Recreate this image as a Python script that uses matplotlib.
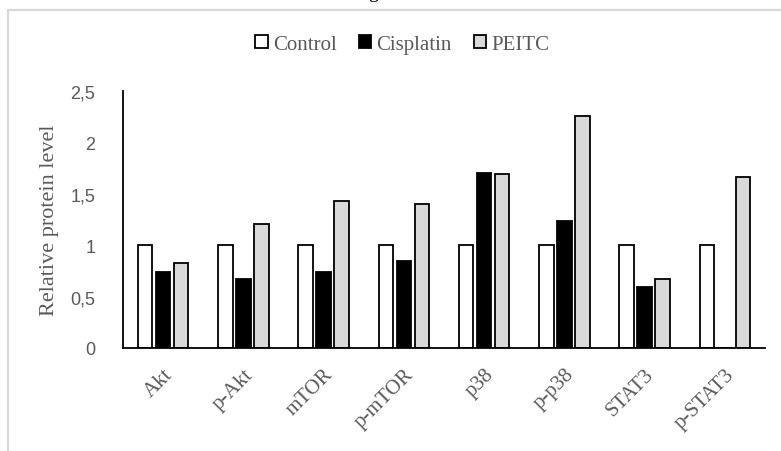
import numpy as np
import matplotlib.pyplot as plt
from matplotlib import patches

# valores
proteins = ["Akt", "p-Akt", "mTOR", "p-mTOR", "p38", "p-p38", "STAT3", "p-STAT3"]
control = [1, 1, 1, 1, 1, 1, 1, 1]
cisplatin = [0.74, 0.67, 0.74, 0.85, 1.70, 1.24, 0.59, 0]
peitc = [0.83, 1.21, 1.43, 1.40, 1.69, 2.26, 0.675, 1.66]
yticks = [0, 0.5, 1, 1.5, 2, 2.5]
ytick_labels = ["0", "0,5", "1", "1,5", "2", "2,5"]

serif = "Liberation Serif"
grey_txt = "#595959"

fig = plt.figure(figsize=(7.81, 4.52), dpi=100)
ax = fig.add_axes([0.1575, 0.2279, 0.822, 0.5686])

x = np.arange(len(proteins))
w = 0.18
step = 0.225
ax.bar(x - step, control, w, color="white", edgecolor="black", linewidth=1.3, label="Control")
ax.bar(x, cisplatin, w, color="black", edgecolor="black", linewidth=1.3, label="Cisplatin")
ax.bar(x + step, peitc, w, color="#d9d9d9", edgecolor="black", linewidth=1.3, label="PEITC")

ax.set_xlim(-0.5, len(proteins) - 0.5)
ax.set_ylim(0, 2.5)
ax.set_yticks(yticks)
ax.set_yticklabels(ytick_labels, fontsize=13, color=grey_txt, family="Liberation Sans")
ax.set_xticks(x)
ax.set_xticklabels(proteins, rotation=45, ha="right", rotation_mode="anchor",
                   fontsize=15, color=grey_txt, family=serif)
ax.tick_params(axis="both", length=0)
ax.tick_params(axis="y", pad=20)
ax.tick_params(axis="x", pad=12)
for s in ["top", "right"]:
    ax.spines[s].set_visible(False)
for s in ["left", "bottom"]:
    ax.spines[s].set_linewidth(1.3)
ax.set_ylabel("Relative protein level", fontsize=16, color=grey_txt, family=serif, labelpad=8)

leg = fig.legend(loc="center", bbox_to_anchor=(0.515, 0.899), ncol=3, frameon=False,
                 handlelength=0.6, handleheight=0.6, handletextpad=0.25, columnspacing=1.05,
                 prop={"family": serif, "size": 15})
for t in leg.get_texts():
    t.set_color(grey_txt)

# moldura cinza do grafico (cortada)
frame = patches.Rectangle((8 / 781, -0.1), 1.2, (452 - 11) / 452 + 0.1, transform=fig.transFigure,
                          fill=False, edgecolor="#d9d9d9", linewidth=1.6)
fig.patches.append(frame)
# resto de uma legenda acima do grafico, cortada na imagem
fig.text(0.477, 1.005, "g", family=serif, fontsize=14, va="baseline", ha="center")

fig.savefig("out.png", dpi=100)
